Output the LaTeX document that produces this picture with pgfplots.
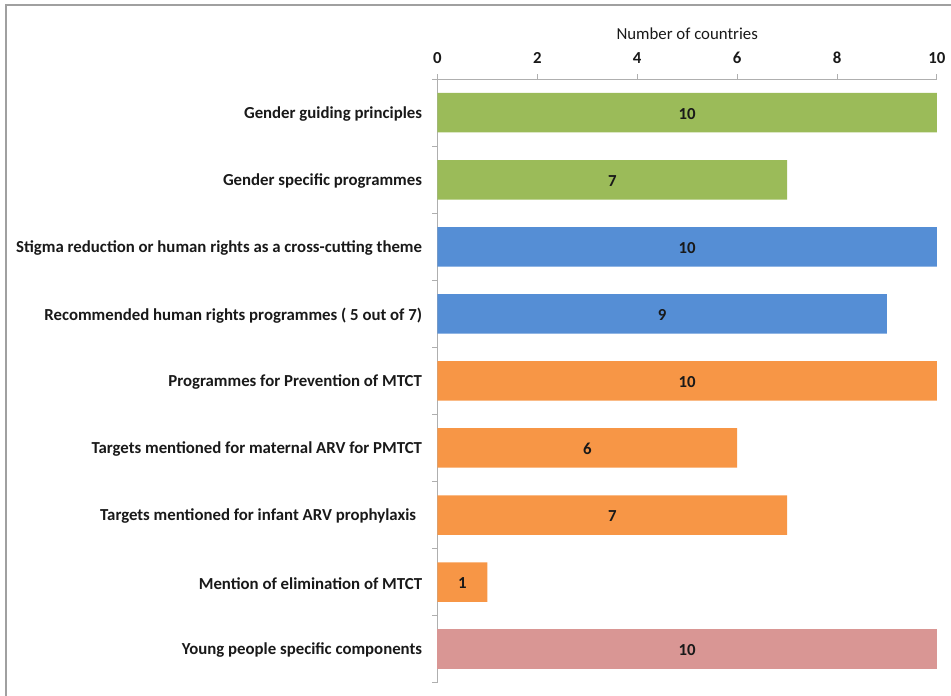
\documentclass[border=0pt]{standalone}
\usepackage{pgfplots}
\pgfplotsset{compat=1.18}
\usepackage{pgfplotstable}
\usepackage{fontspec}
\setmainfont{Carlito}

\definecolor{barGreen}{RGB}{155,187,89}
\definecolor{barBlue}{RGB}{85,142,213}
\definecolor{barOrange}{RGB}{247,150,70}
\definecolor{barPink}{RGB}{217,150,148}
\definecolor{axisGray}{RGB}{175,175,175}
\definecolor{frameGray}{RGB}{160,160,160}

% y = row position (8 = top row), v = number of countries
\pgfplotstableread{
y v
8 10
7 7
}\gender
\pgfplotstableread{
y v
6 10
5 9
}\rights
\pgfplotstableread{
y v
4 10
3 6
2 7
1 1
}\pmtct
\pgfplotstableread{
y v
0 10
}\young

\newcommand{\lbl}{\fontsize{12.6}{15}\selectfont}

\begin{document}
\begin{tikzpicture}[x=1pt,y=1pt]
\path[use as bounding box] (0,0) rectangle (713.25,522);
\draw[frameGray, line width=1.4pt] (4.5,-2) -- (4.5,518.25) -- (716,518.25);
\begin{axis}[
  at={(328.1pt,10pt)}, anchor=south west,
  scale only axis, width=374.6pt, height=452.6pt,
  xmin=0, xmax=10, ymin=-0.5, ymax=8.5,
  /pgf/number format/assume math mode=true,
  axis x line*=top, axis y line*=left,
  axis line style={axisGray, line width=0.8pt},
  tick align=outside, major tick length=3.75pt,
  tick style={axisGray, line width=0.8pt},
  xtick={0,2,...,10},
  xticklabel style={font=\bfseries\lbl, text=black!90, yshift=4.2pt},
  xlabel={Number of countries},
  xlabel style={font=\lbl, text=black!90, at={(axis description cs:0.5,1)}, anchor=center, yshift=34pt},
  ytick={-0.5,0.5,...,8.5}, yticklabels={},
  extra y ticks={0,1,...,8},
  extra y tick style={major tick length=0pt},
  extra y tick labels={
    Young people specific components,
    Mention of elimination of MTCT,
    Targets mentioned for infant ARV prophylaxis\kern4.5pt,
    Targets mentioned for maternal ARV for PMTCT,
    Programmes for Prevention of MTCT,
    Recommended human rights programmes ( 5 out of 7),
    Stigma reduction or human rights as a cross-cutting theme,
    Gender specific programmes,
    Gender guiding principles},
  yticklabel style={font=\bfseries\lbl, text=black!90, xshift=-8pt, yshift=-1pt},
  clip=false,
  bars/.style={xbar, bar width=29.6pt, bar shift=0pt, draw=none},
  vals/.style={draw=none, mark=none, nodes near coords, point meta=explicit,
    nodes near coords style={anchor=center, yshift=-1pt, font=\bfseries\lbl, text=black!90}},
]
\addplot[bars, fill=barGreen] table[x=v, y=y] {\gender};
\addplot[bars, fill=barBlue] table[x=v, y=y] {\rights};
\addplot[bars, fill=barOrange] table[x=v, y=y] {\pmtct};
\addplot[bars, fill=barPink] table[x=v, y=y] {\young};

\addplot[vals] table[x expr=\thisrow{v}/2, y=y, meta=v] {\gender};
\addplot[vals] table[x expr=\thisrow{v}/2, y=y, meta=v] {\rights};
\addplot[vals] table[x expr=\thisrow{v}/2, y=y, meta=v] {\pmtct};
\addplot[vals] table[x expr=\thisrow{v}/2, y=y, meta=v] {\young};
\end{axis}
\end{tikzpicture}
\end{document}
